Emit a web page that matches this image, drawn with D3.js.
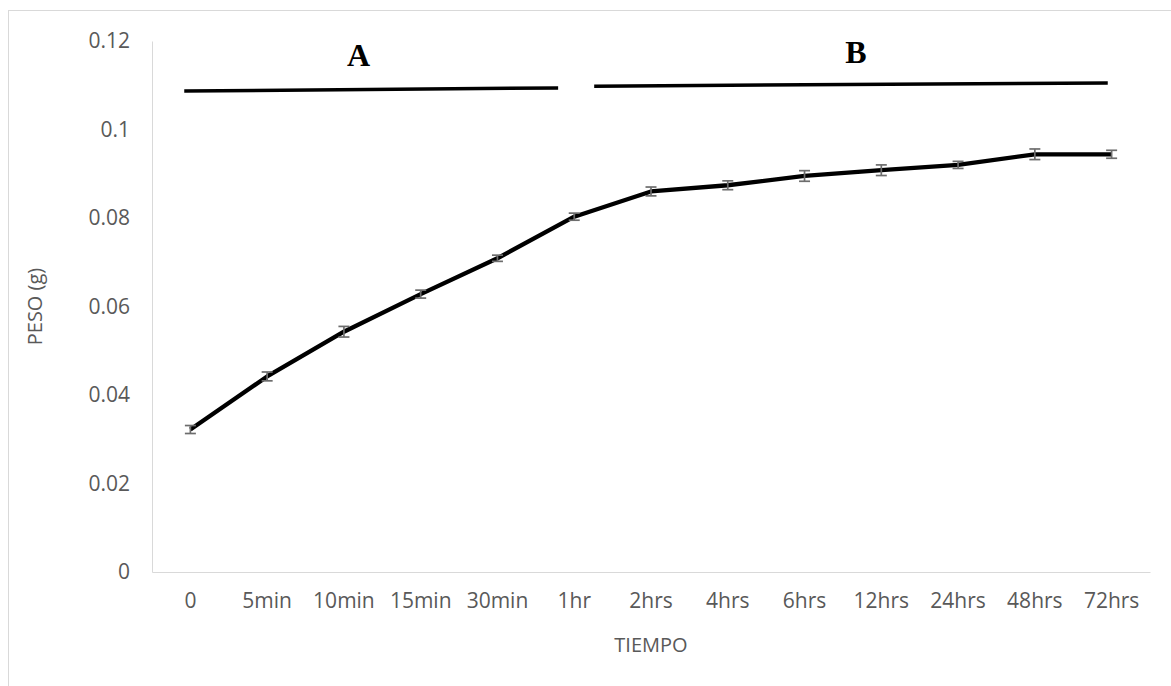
<!DOCTYPE html>
<html>
<head>
<meta charset="utf-8">
<script src="https://cdn.jsdelivr.net/npm/d3@7"></script>
<style>
  body { margin: 0; background: #fff; }
  svg { display: block; font-family: "Open Sans", sans-serif; }
</style>
</head>
<body>
<div id="chart"></div>
<script>
const width = 1171;
const height = 686;

// data
const tiempos = ["0", "5min", "10min", "15min", "30min", "1hr", "2hrs", "4hrs", "6hrs", "12hrs", "24hrs", "48hrs", "72hrs"];
const peso = [0.0322, 0.0442, 0.0543, 0.0628, 0.0709, 0.0803, 0.0860, 0.0874, 0.0895, 0.0908, 0.0920, 0.0944, 0.0944];
const errores = [0.0009, 0.0010, 0.0012, 0.0009, 0.0007, 0.0008, 0.0010, 0.0010, 0.0012, 0.0012, 0.0008, 0.0012, 0.0009];
const yTicks = [0, 0.02, 0.04, 0.06, 0.08, 0.1, 0.12];

// the hand drawn bars over the chart, in category index / value units
const tramos = [
    { label: "A", x0: -0.08, x1: 4.79, y0: 0.1087, y1: 0.1094, lx: 2.19, ly: 0.1168 },
    { label: "B", x0: 5.26, x1: 11.95, y0: 0.1098, y1: 0.1105, lx: 8.67, ly: 0.1175 }
];

const margin = { top: 41, right: 21, bottom: 114, left: 152 };
const font = "'Open Sans', sans-serif";

const svg = d3.select("#chart").append("svg")
    .attr("width", width)
    .attr("height", height);

// outer chart frame (right/bottom edges fall outside the window)
svg.append("rect")
    .attr("x", 8.5)
    .attr("y", 10.5)
    .attr("width", width + 20)
    .attr("height", height + 20)
    .attr("fill", "none")
    .attr("stroke", "#d9d9d9");

const x = d3.scaleBand()
    .domain(tiempos)
    .range([margin.left, width - margin.right]);

const y = d3.scaleLinear()
    .domain([0, 0.12])
    .range([height - margin.bottom, margin.top]);

const xIdx = d3.scaleLinear()
    .domain([0, tiempos.length - 1])
    .range([x(tiempos[0]) + x.bandwidth() / 2, x(tiempos[tiempos.length - 1]) + x.bandwidth() / 2]);

// y axis
const yAxis = svg.append("g")
    .attr("transform", `translate(${margin.left},0)`)
    .call(d3.axisLeft(y).tickValues(yTicks).tickSize(0).tickPadding(22).tickFormat(d => String(d)));
yAxis.attr("font-family", null).attr("font-size", null);
yAxis.select(".domain").attr("stroke", "#d9d9d9");
yAxis.selectAll("text").attr("fill", "#595959").style("font-family", font).style("font-size", "21px");

// x axis
const xAxis = svg.append("g")
    .attr("transform", `translate(0,${y(0)})`)
    .call(d3.axisBottom(x).tickSize(0).tickPadding(21));
xAxis.attr("font-family", null).attr("font-size", null);
xAxis.select(".domain").attr("stroke", "#d9d9d9");
xAxis.selectAll("text").attr("fill", "#595959").style("font-family", font).style("font-size", "21px");

svg.append("text")
    .attr("x", (margin.left + width - margin.right) / 2)
    .attr("y", 652)
    .attr("text-anchor", "middle")
    .attr("fill", "#595959")
    .style("font-size", "20px")
    .text("TIEMPO");

svg.append("text")
    .attr("transform", `translate(42,${(margin.top + y(0)) / 2}) rotate(-90)`)
    .attr("text-anchor", "middle")
    .attr("fill", "#595959")
    .style("font-size", "20px")
    .text("PESO (g)");

const cx = (d, i) => x(tiempos[i]) + x.bandwidth() / 2;

// line
svg.append("path")
    .datum(peso)
    .attr("fill", "none")
    .attr("stroke", "#000")
    .attr("stroke-width", 4.3)
    .attr("stroke-linejoin", "round")
    .attr("d", d3.line().x(cx).y(d => y(d)));

// error bars
const eb = svg.append("g")
    .attr("stroke", "#6d6d6d")
    .attr("stroke-width", 1.7)
    .selectAll("g")
    .data(peso)
    .join("g");

eb.append("line")
    .attr("x1", cx).attr("x2", cx)
    .attr("y1", (d, i) => y(d - errores[i]))
    .attr("y2", (d, i) => y(d + errores[i]));
eb.append("line")
    .attr("x1", (d, i) => cx(d, i) - 5.5).attr("x2", (d, i) => cx(d, i) + 5.5)
    .attr("y1", (d, i) => y(d - errores[i]))
    .attr("y2", (d, i) => y(d - errores[i]));
eb.append("line")
    .attr("x1", (d, i) => cx(d, i) - 5.5).attr("x2", (d, i) => cx(d, i) + 5.5)
    .attr("y1", (d, i) => y(d + errores[i]))
    .attr("y2", (d, i) => y(d + errores[i]));

// A / B bars
svg.append("g")
    .selectAll("line")
    .data(tramos)
    .join("line")
    .attr("x1", d => xIdx(d.x0))
    .attr("x2", d => xIdx(d.x1))
    .attr("y1", d => y(d.y0))
    .attr("y2", d => y(d.y1))
    .attr("stroke", "#000")
    .attr("stroke-width", 3.5);

svg.append("g")
    .selectAll("text")
    .data(tramos)
    .join("text")
    .attr("x", d => xIdx(d.lx))
    .attr("y", d => y(d.ly))
    .attr("text-anchor", "middle")
    .attr("dominant-baseline", "central")
    .style("font-family", "'Liberation Serif', 'Times New Roman', serif")
    .style("font-weight", "bold")
    .style("font-size", "32px")
    .text(d => d.label);
</script>
</body>
</html>
